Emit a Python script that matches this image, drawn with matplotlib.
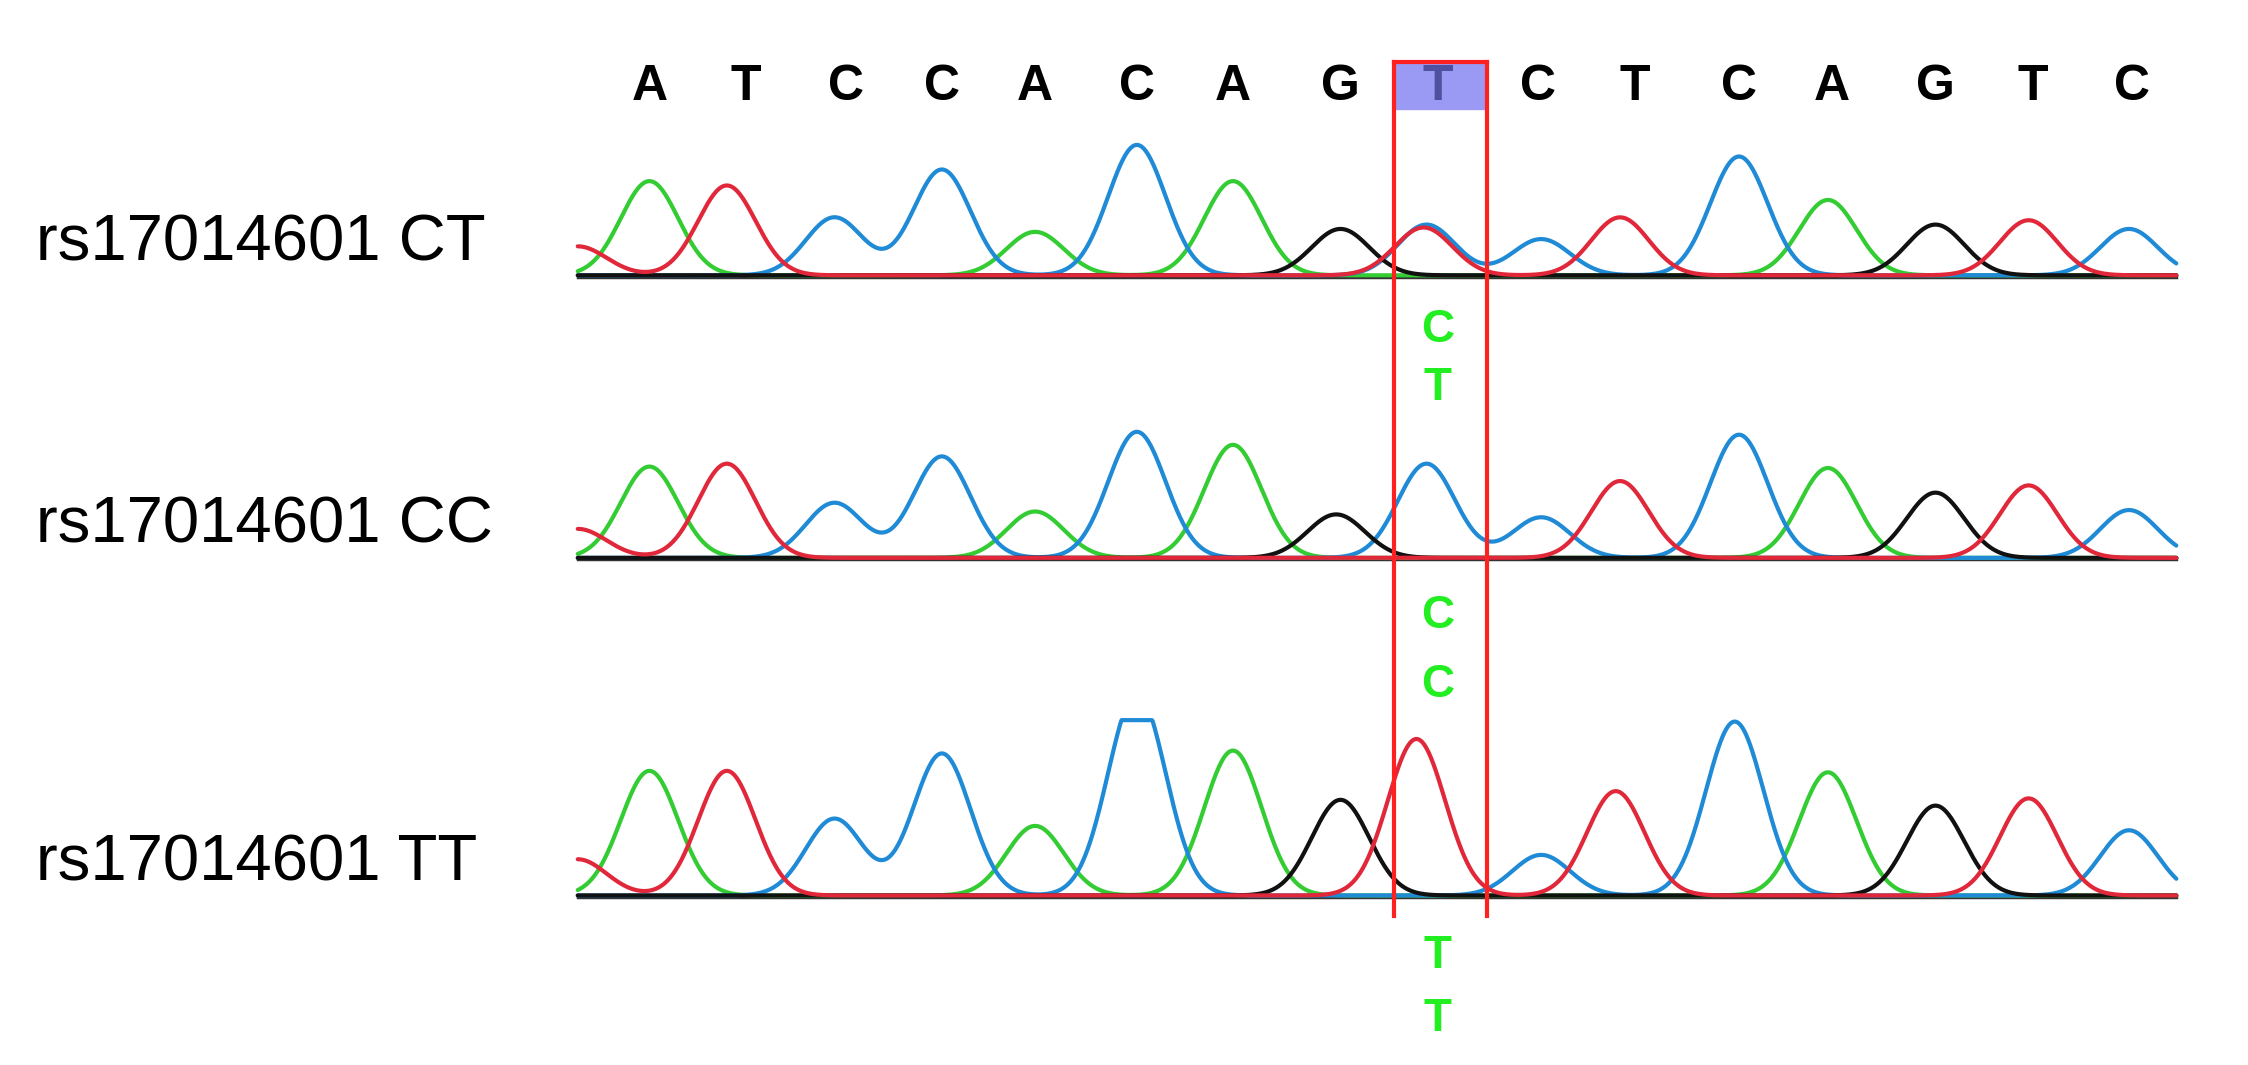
import numpy as np
import matplotlib
matplotlib.use("Agg")
import matplotlib.pyplot as plt

bases = list("ATCCACAGTCTCAGTC")
base_x = [453, 520, 590, 657, 722, 793, 860, 935, 1003, 1073, 1140, 1213, 1278, 1350, 1418, 1487]
labels = ["rs17014601 CT", "rs17014601 CC", "rs17014601 TT"]
baselines = [190, 385, 618]
genotype_calls = [["C", "T"], ["C", "C"], ["T", "T"]]

# peaks per row: (base, position, apex height above baseline)
peaks_ct = [("T", 403, 20), ("A", 453, 65), ("T", 507, 62), ("C", 582, 40), ("C", 657, 73), ("A", 722, 30),
            ("C", 793, 90), ("A", 860, 65), ("G", 935, 32), ("T", 993, 33), ("C", 995, 35), ("C", 1075, 25),
            ("T", 1130, 40), ("C", 1213, 82), ("A", 1275, 52), ("G", 1350, 35), ("T", 1415, 38), ("C", 1485, 32)]
peaks_cc = [("T", 403, 20), ("A", 453, 63), ("T", 507, 65), ("C", 582, 38), ("C", 657, 70), ("A", 722, 32),
            ("C", 793, 87), ("A", 860, 78), ("G", 932, 30), ("C", 995, 65), ("C", 1075, 28),
            ("T", 1130, 53), ("C", 1213, 85), ("A", 1275, 62), ("G", 1350, 45), ("T", 1415, 50), ("C", 1485, 33)]
peaks_tt = [("T", 403, 25), ("A", 453, 86), ("T", 507, 86), ("C", 582, 53), ("C", 657, 98), ("A", 722, 48),
            ("C", 793, 140), ("A", 860, 100), ("G", 935, 66), ("T", 988, 108), ("C", 1075, 28),
            ("T", 1127, 72), ("C", 1210, 120), ("A", 1275, 85), ("G", 1350, 62), ("T", 1415, 67), ("C", 1485, 45)]
row_peaks = [peaks_ct, peaks_cc, peaks_tt]
clip_heights = [200, 200, 121]

colors = {"A": "#33cc33", "C": "#1f8ad6", "G": "#111111", "T": "#e0283a"}

fig = plt.figure(figsize=(22.48, 10.65), dpi=100)
ax = fig.add_axes([0, 0, 1, 1])
ax.set_xlim(0, 1568)
ax.set_ylim(735, 0)
ax.axis("off")

x = np.linspace(403, 1518, 2000)
sigma = 20
for r, (pk, base) in enumerate(zip(row_peaks, baselines)):
    for b in "ACGT":
        y = np.zeros_like(x)
        for (bb, px, h) in pk:
            if bb == b:
                y += h * np.exp(-0.5 * ((x - px) / sigma) ** 2)
        y = np.minimum(y, clip_heights[r])
        ax.plot(x, base - y, color=colors[b], lw=3, solid_capstyle="round")
    ax.plot([403, 1518], [base + 1, base + 1], color="#333333", lw=2.5, zorder=0)
    ax.text(25, base - 22, labels[r], fontsize=47, family="Liberation Sans", va="center", ha="left")

# highlight
ax.add_patch(plt.Rectangle((972, 43), 65, 32, color="#9a9af5", zorder=0))
for i, (b, bx) in enumerate(zip(bases, base_x)):
    ax.text(bx, 60, b, fontsize=36, fontweight="bold", family="Liberation Sans",
            ha="center", va="center", color="#5050a0" if i == 8 else "black")
ax.plot([972, 972], [43, 632], color="#ff2020", lw=3)
ax.plot([1037, 1037], [43, 632], color="#ff2020", lw=3)
ax.plot([972, 1037], [43, 43], color="#ff2020", lw=3)

call_y = [(228, 268), (425, 473), (660, 703)]
for calls, ys in zip(genotype_calls, call_y):
    for c, yy in zip(calls, ys):
        ax.text(1003, yy, c, fontsize=33, fontweight="bold", family="Liberation Sans",
                ha="center", va="center", color="#22ee22")

fig.savefig("out.png", dpi=100)
